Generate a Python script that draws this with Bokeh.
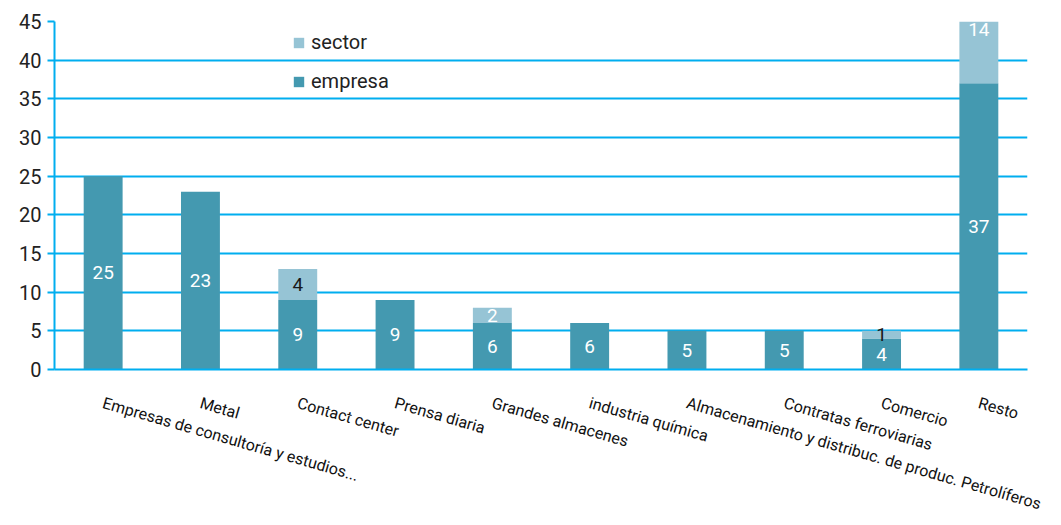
from bokeh.plotting import figure
from bokeh.models import (ColumnDataSource, FactorRange, Range1d, FixedTicker,
                          Legend, LegendItem)
from bokeh.core.properties import value
from bokeh.embed import file_html
from bokeh.resources import INLINE

# ---- data ----
categories = [
    "Empresas de consultoría y estudios...",
    "Metal",
    "Contact center",
    "Prensa diaria",
    "Grandes almacenes",
    "industria química",
    "Almacenamiento y distribuc. de produc. Petrolíferos",
    "Contratas ferroviarias",
    "Comercio",
    "Resto",
]
empresa = [25, 23, 9, 9, 6, 6, 5, 5, 4, 37]
sector = [0, 0, 4, 0, 2, 0, 0, 0, 1, 14]
y_ticks = [0, 5, 10, 15, 20, 25, 30, 35, 40, 45]

# ---- styles ----
C_EMP = "#4499b0"
C_SEC = "#96c4d5"
C_GRID = "#00aeef"
FONT = "Roboto"
sector_label_colors = {"Contact center": "#1a1a1a", "Grandes almacenes": "#ffffff",
                       "Comercio": "#1a1a1a", "Resto": "#ffffff"}

src = ColumnDataSource(dict(cat=categories, empresa=empresa, sector=sector))

p = figure(x_range=FactorRange(*categories, range_padding=0),
           y_range=Range1d(0, 45),
           width=1061, height=525,
           output_backend="svg", toolbar_location=None,
           min_border_left=54, min_border_top=21, min_border_right=34,
           min_border_bottom=10)
p.outline_line_color = None
p.background_fill_color = "white"

rs = p.vbar_stack(["empresa", "sector"], x="cat", width=0.4, source=src,
                  color=[C_EMP, C_SEC], line_color=None)

# value labels
emp_mid = [e / 2 for e in empresa]
p.text(x=categories, y=emp_mid, text=[str(e) for e in empresa],
       text_color="white", text_font=value(FONT), text_font_size="19px",
       text_align="center", text_baseline="middle")

sc, sy, st, scol = [], [], [], []
for c, e, s in zip(categories, empresa, sector):
    if s > 0:
        sc.append(c)
        sy.append(e + s / 2)
        st.append(str(s))
        scol.append(sector_label_colors[c])
p.text(x=sc, y=sy, text=st, text_color=scol, text_font=value(FONT),
       text_font_size="19px", text_align="center", text_baseline="middle")

# axes
p.yaxis.ticker = FixedTicker(ticks=y_ticks)
p.yaxis.axis_line_color = C_GRID
p.yaxis.axis_line_width = 2
p.yaxis.major_tick_line_color = C_GRID
p.yaxis.major_tick_line_width = 2
p.yaxis.major_tick_out = 7
p.yaxis.major_tick_in = 0
p.yaxis.minor_tick_line_color = None
p.yaxis.major_label_text_font = FONT
p.yaxis.major_label_text_font_size = "20px"
p.yaxis.major_label_text_color = "#222222"
p.yaxis.major_label_standoff = 6

p.xaxis.axis_line_color = C_GRID
p.xaxis.axis_line_width = 2
p.xaxis.major_tick_line_color = None
p.xaxis.minor_tick_line_color = None
p.xaxis.major_label_text_font = FONT
p.xaxis.major_label_text_font_size = "16px"
p.xaxis.major_label_text_color = "#111111"
p.xaxis.major_label_orientation = -0.28
p.xaxis.major_label_standoff = 27

p.xgrid.grid_line_color = None
p.ygrid.grid_line_color = C_GRID
p.ygrid.grid_line_width = 2

legend = Legend(items=[LegendItem(label="sector", renderers=[rs[1]]),
                       LegendItem(label="empresa", renderers=[rs[0]])],
                location=(238, 276),
                label_text_font=FONT, label_text_font_size="20px",
                label_text_color="#222222",
                glyph_width=13, glyph_height=13, label_height=22,
                spacing=15, label_standoff=6, padding=0, margin=0,
                background_fill_alpha=0, border_line_color=None)
p.add_layout(legend, "center")

open("out.html", "w").write(file_html(p, INLINE))
